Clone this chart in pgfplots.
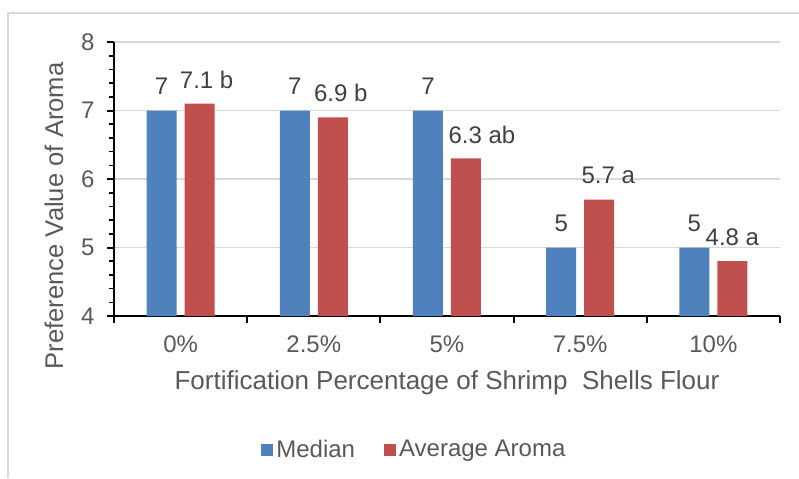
\documentclass[border=0pt]{standalone}
\usepackage{pgfplots}
\pgfplotsset{compat=1.18}
\usepackage{pgfplotstable}
\usepackage{fontspec}
\setmainfont{Liberation Sans}
\definecolor{barblue}{HTML}{4F81BD}
\definecolor{barred}{HTML}{C0504D}
\definecolor{gridgray}{HTML}{D9D9D9}
\definecolor{txtgray}{HTML}{595959}
\definecolor{lblgray}{HTML}{404040}

\pgfplotstableread[col sep=comma]{
x,y,lbl,dx
0,7,7,0
1,7,7,0
2,7,7,0
3,5,5,0
4,5,5,0
}\median
\pgfplotstableread[col sep=comma]{
x,y,lbl,dx
0,7.1,7.1 b,3.5
1,6.9,6.9 b,4
2,6.3,6.3 ab,8
3,5.7,5.7 a,4.5
4,4.8,4.8 a,0
}\average

\begin{document}
\begin{tikzpicture}
\useasboundingbox (-57pt,-81pt) rectangle (342.5pt,158pt);
\draw[gridgray, line width=0.75pt] (-53pt,-81pt) -- (-53pt,151.5pt) -- (342.5pt,151.5pt);
\begin{axis}[
  at={(0,0)}, anchor=south west,
  scale only axis, width=333pt, height=137pt,
  ybar=4pt, bar width=15pt,
  xmin=-0.5, xmax=4.5, ymin=4, ymax=8,
  xtick={-0.5,0.5,1.5,2.5,3.5,4.5},
  x tick label as interval,
  xticklabels={0\%,2.5\%,5\%,7.5\%,10\%},
  ytick={4,5,6,7,8},
  minor y tick num=4,
  axis x line*=bottom, axis y line*=left,
  axis line style={black, line width=1pt},
  tick align=outside,
  major tick length=3.5pt, minor tick length=2.5pt,
  tick style={black, line width=1pt},
  minor tick style={black, line width=0.8pt},
  ymajorgrids,
  major grid style={gridgray, line width=0.75pt},
  /pgf/number format/assume math mode=true,
  ticklabel style={font=\fontsize{12}{14}\selectfont, text=txtgray},
  yticklabel style={anchor=east, inner sep=0pt, xshift=-6pt},
  xticklabel style={anchor=base, inner sep=0pt, yshift=-14.5pt},
  xlabel={Fortification Percentage of Shrimp\ \ Shells Flour},
  ylabel={Preference Value of Aroma},
  xlabel style={at={(axis description cs:0.5,-0.27)}, anchor=base, font=\fontsize{13}{15}\selectfont, text=txtgray},
  ylabel style={at={(axis description cs:-0.09,0.365)}, anchor=center, font=\fontsize{12.8}{15}\selectfont, text=txtgray},
  legend columns=2,
  legend style={at={(axis description cs:0.2207,-0.489)}, anchor=west, draw=none, inner sep=0pt,
    font=\fontsize{12}{14}\selectfont, text=txtgray, column sep=0pt,
    nodes={inner sep=1.5pt}},
  nodes near coords,
  point meta=explicit symbolic,
  every node near coord/.append style={anchor=center, yshift=12pt, xshift=\dx pt,
    font=\fontsize{12}{14}\selectfont, text=lblgray},
]
\addplot[fill=barblue, draw=none,
  visualization depends on={\thisrow{dx} \as \dx},
  legend image code/.code={\fill[barblue] (0pt,-3pt) rectangle (6pt,3pt);}]
  table[x=x, y=y, meta=lbl] {\median};
\addlegendentry{Median\rule{13pt}{0pt}}
\addplot[fill=barred, draw=none,
  visualization depends on={\thisrow{dx} \as \dx},
  legend image code/.code={\fill[barred] (0pt,-3pt) rectangle (6pt,3pt);}]
  table[x=x, y=y, meta=lbl] {\average};
\addlegendentry{Average Aroma}
\end{axis}
\end{tikzpicture}
\end{document}
